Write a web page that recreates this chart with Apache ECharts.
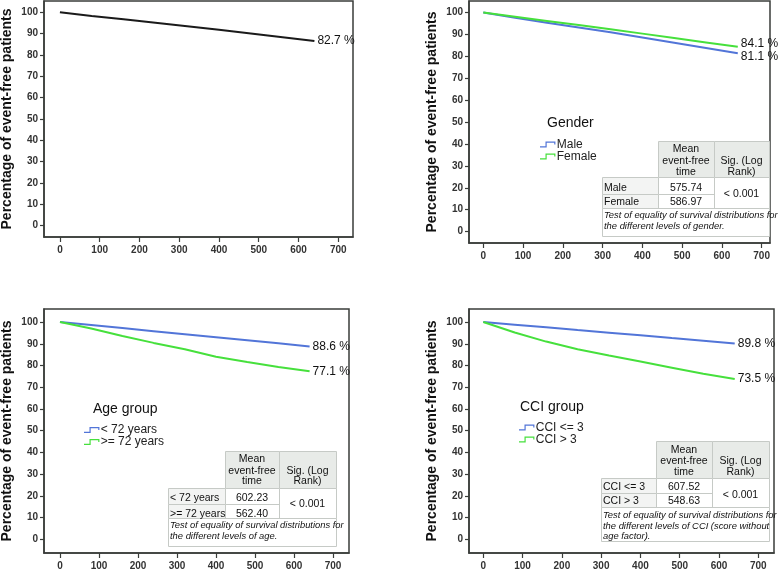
<!DOCTYPE html>
<html><head><meta charset="utf-8">
<script src="https://cdn.jsdelivr.net/npm/echarts@6/dist/echarts.min.js"></script>
<style>html,body{margin:0;padding:0;background:#fff}#c{width:778px;height:569px}</style>
</head><body><div id="c"></div>
<script>
// ---------- data ----------
const days = [0, 80, 160, 240, 320, 400, 480, 560, 640];
const xTicks = [0, 100, 200, 300, 400, 500, 600, 700];
const yTicks = [0, 10, 20, 30, 40, 50, 60, 70, 80, 90, 100];

const overall = [100, 98.3, 96.7, 95.1, 93.5, 91.8, 90.1, 88.3, 86.5];
const male    = [100, 97.7, 95.4, 93.2, 91.0, 88.6, 86.2, 83.8, 81.4];
const female  = [100, 98.1, 96.2, 94.3, 92.4, 90.4, 88.4, 86.4, 84.4];
const ageLow  = [100, 98.6, 97.2, 95.8, 94.4, 93.0, 91.6, 90.2, 88.7];
const ageHigh = [100, 97.0, 93.6, 90.4, 87.5, 84.0, 81.6, 79.3, 77.3];
const cciLow  = [100, 98.8, 97.6, 96.3, 95.1, 93.9, 92.6, 91.4, 90.1];
const cciHigh = [100, 95.2, 91.0, 87.5, 84.6, 81.8, 79.0, 76.2, 73.8];

const endOverall = '82.7 %';
const endGender = ['81.1 %', '84.1 %'];
const endAge = ['88.6 %', '77.1 %'];
const endCci = ['89.8 %', '73.5 %'];

const genderNames = ['Male', 'Female'];
const ageNames = ['< 72 years', '>= 72 years'];
const cciNames = ['CCI <= 3', 'CCI > 3'];

const genderMeans = ['575.74', '586.97'];
const ageMeans = ['602.23', '562.40'];
const cciMeans = ['607.52', '548.63'];
const sigValue = '< 0.001';
const headMean = ['Mean', 'event-free', 'time'];
const headSig = ['Sig. (Log', 'Rank)'];
const footGender = ['Test of equality of survival distributions for', 'the different levels of gender.'];
const footAge = ['Test of equality of survival distributions for', 'the different levels of age.'];
const footCci = ['Test of equality of survival distributions for', 'the different levels of CCI (score without', 'age factor).'];

const yTitle = 'Percentage of event-free patients';
const legendTitles = ['Gender', 'Age group', 'CCI group'];

// ---------- style ----------
const FONT = '"Liberation Sans", Arial, sans-serif';
const BLUE = '#5275d8';
const GREEN = '#46e03c';
const BLACK = '#1a1a1a';
const FRAME = '#3a3d3a';

const gridDefs = [
  {left: 44, top: 1, width: 309, height: 236, xmin: -40, xmax: 737, ymin: -5.3, ymax: 105.3},
  {left: 469, top: 1, width: 301, height: 242, xmin: -36, xmax: 721, ymin: -5.2, ymax: 105.3},
  {left: 44, top: 309, width: 305, height: 244, xmin: -41, xmax: 741, ymin: -6.3, ymax: 106},
  {left: 469, top: 309, width: 305, height: 244, xmin: -36.4, xmax: 740, ymin: -6.3, ymax: 106}
];

const grids = gridDefs.map(g => ({
  left: g.left, top: g.top, width: g.width, height: g.height,
  show: true, borderColor: FRAME, borderWidth: 1.5, backgroundColor: 'transparent',
  containLabel: false, outerBoundsMode: 'none'
}));

const xAxes = gridDefs.map((g, i) => ({
  type: 'value', gridIndex: i, min: g.xmin, max: g.xmax,
  axisLine: {show: true, onZero: false, lineStyle: {color: FRAME, width: 1.5}},
  axisTick: {show: true, length: 5, customValues: xTicks, lineStyle: {color: FRAME, width: 1.2}},
  axisLabel: {customValues: xTicks, margin: 8, color: '#333', fontSize: 10, fontWeight: 'bold', fontFamily: FONT},
  splitLine: {show: false}
}));

const yAxes = gridDefs.map((g, i) => ({
  type: 'value', gridIndex: i, min: g.ymin, max: g.ymax,
  name: yTitle, nameLocation: 'middle', nameGap: 30,
  nameTextStyle: {fontSize: 14, fontWeight: 'bold', color: '#111', fontFamily: FONT},
  axisLine: {show: true, onZero: false, lineStyle: {color: FRAME, width: 1.5}},
  axisTick: {show: true, length: 4, customValues: yTicks, lineStyle: {color: FRAME, width: 1.2}},
  axisLabel: {customValues: yTicks, margin: 6, color: '#333', fontSize: 10, fontWeight: 'bold', fontFamily: FONT},
  splitLine: {show: false}
}));

function mkSeries(name, arr, idx, color, label, dy) {
  return {
    type: 'line', name: name, xAxisIndex: idx, yAxisIndex: idx,
    data: days.map((d, j) => [d, arr[j]]),
    symbol: 'none', smooth: false,
    lineStyle: {color: color, width: 2}, itemStyle: {color: color},
    endLabel: {show: true, formatter: () => label, color: '#111', fontSize: 12, fontFamily: FONT, distance: 3, offset: [0, dy]},
    emphasis: {disabled: true}
  };
}

const series = [
  mkSeries('Overall', overall, 0, BLACK, endOverall, 0),
  mkSeries(genderNames[0], male, 1, BLUE, endGender[0], 3),
  mkSeries(genderNames[1], female, 1, GREEN, endGender[1], -3),
  mkSeries(ageNames[0], ageLow, 2, BLUE, endAge[0], 0),
  mkSeries(ageNames[1], ageHigh, 2, GREEN, endAge[1], 0),
  mkSeries(cciNames[0], cciLow, 3, BLUE, endCci[0], 0),
  mkSeries(cciNames[1], cciHigh, 3, GREEN, endCci[1], 0)
];

const ICON = 'path://M0,5.6 L6.4,5.6 L6.4,0 L18,0 L18,3.6 L16.6,3.6 L16.6,1.4 L7.8,1.4 L7.8,7 L0,7 Z';
function mkLegend(names, left, top) {
  return {
    data: names, left: left, top: top, orient: 'vertical',
    icon: ICON, itemWidth: 18, itemHeight: 6, itemGap: 0, padding: 0,
    selectedMode: false,
    textStyle: {fontSize: 12, color: '#222', fontFamily: FONT, lineHeight: 12, padding: [0, 0, 0, -5]}
  };
}
const legends = [
  mkLegend(genderNames, 540, 138.5),
  mkLegend(ageNames, 84, 424),
  mkLegend(cciNames, 519, 421.5)
];

// ---------- graphic helpers (legend titles and tables) ----------
function txt(x, y, s, align, opt) {
  opt = opt || {};
  return {type: 'text', x: x, y: y, silent: true, style: {
    text: s, fill: '#111', textAlign: align, textVerticalAlign: 'middle', align: align, verticalAlign: 'middle',
    fontSize: opt.size || 11, fontFamily: FONT, fontStyle: opt.italic ? 'italic' : 'normal'
  }};
}
function rct(x, y, w, h, fill) {
  return {type: 'rect', silent: true, shape: {x: x + 0.5, y: y + 0.5, width: w, height: h},
    style: {fill: fill, stroke: '#c6cac6', lineWidth: 1}};
}
function table(g, rowNames, means, foot) {
  const els = [];
  const HEAD = '#e8ebe8', LAB = '#f3f4f3';
  els.push(rct(g.c1, g.h0, g.c2 - g.c1, g.h1 - g.h0, HEAD));
  els.push(rct(g.c2, g.h0, g.c3 - g.c2, g.h1 - g.h0, HEAD));
  els.push(rct(g.c0, g.h1, g.c1 - g.c0, g.r1 - g.h1, LAB));
  els.push(rct(g.c0, g.r1, g.c1 - g.c0, g.r2 - g.r1, LAB));
  els.push(rct(g.c1, g.h1, g.c2 - g.c1, g.r1 - g.h1, '#fff'));
  els.push(rct(g.c1, g.r1, g.c2 - g.c1, g.r2 - g.r1, '#fff'));
  els.push(rct(g.c2, g.h1, g.c3 - g.c2, g.r2 - g.h1, '#fff'));
  els.push(rct(g.c0, g.r2, g.c3 - g.c0, g.f1 - g.r2, '#fff'));
  const mx = (g.c1 + g.c2) / 2, sx = (g.c2 + g.c3) / 2;
  headMean.forEach((s, i) => els.push(txt(mx, g.meanY[i], s, 'center', {size: 10.5})));
  headSig.forEach((s, i) => els.push(txt(sx, g.sigY[i], s, 'center', {size: 10.5})));
  rowNames.forEach((s, i) => els.push(txt(g.c0 + 2, g.rowY[i], s, 'left', {size: 10.5})));
  means.forEach((s, i) => els.push(txt(mx, g.rowY[i], s, 'center', {size: 10.5})));
  els.push(txt(sx, g.sigMid, sigValue, 'center', {size: 10.5}));
  foot.forEach((s, i) => els.push(txt(g.c0 + 2, g.footY[i], s, 'left', {italic: true, size: 9.4})));
  return els;
}

const graphics = [].concat(
  [txt(547, 123, legendTitles[0], 'left', {size: 14}),
   txt(93, 409, legendTitles[1], 'left', {size: 14}),
   txt(520, 407, legendTitles[2], 'left', {size: 14})],
  table({c0: 602, c1: 658, c2: 714, c3: 769, h0: 141, h1: 177, r1: 194, r2: 208, f1: 236,
         meanY: [149, 161, 172], sigY: [161, 172], rowY: [188, 202], sigMid: 194, footY: [215.5, 226.5]},
        genderNames, genderMeans, footGender),
  table({c0: 168, c1: 225, c2: 279, c3: 336, h0: 451, h1: 488, r1: 504, r2: 518, f1: 546,
         meanY: [459, 471, 481.5], sigY: [471, 481.5], rowY: [498.5, 514], sigMid: 504, footY: [525, 536]},
        ageNames, ageMeans, footAge),
  table({c0: 601, c1: 656, c2: 712, c3: 769, h0: 441, h1: 478, r1: 493, r2: 507, f1: 541,
         meanY: [450, 461, 472], sigY: [461, 472], rowY: [487.5, 501.5], sigMid: 495, footY: [515, 526, 536.5]},
        cciNames, cciMeans, footCci)
);

const chart = echarts.init(document.getElementById('c'), null, {renderer: 'canvas'});
chart.setOption({
  animation: false,
  backgroundColor: '#fff',
  grid: grids, xAxis: xAxes, yAxis: yAxes,
  legend: legends,
  series: series,
  graphic: {elements: graphics}
});
</script>
</body></html>
